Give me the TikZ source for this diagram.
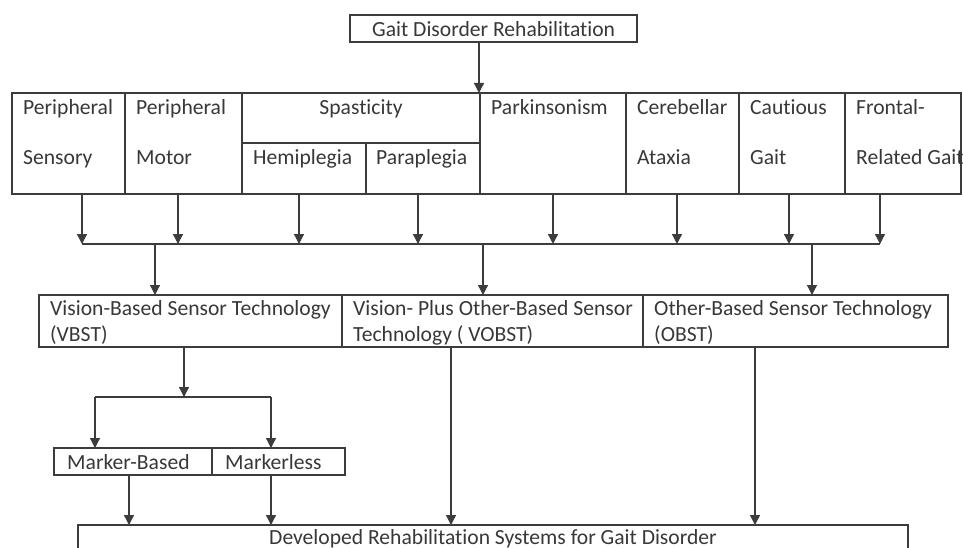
\documentclass[tikz,border=0pt]{standalone}
\usepackage{fontspec}
\setmainfont{Carlito}[Ligatures=NoCommon]
\usetikzlibrary{arrows.meta}
\definecolor{ln}{HTML}{3C3C3C}
\definecolor{tx}{HTML}{383838}
\tikzset{
  boxn/.style={draw=ln, line width=1.3pt, inner sep=0pt, outer sep=0pt, anchor=north west},
  txt/.style={inner sep=0pt, text=tx, font=\fontsize{21.6}{25}\selectfont, anchor=base west},
  arr/.style={draw=ln, line width=1.3pt, -{Triangle[length=10pt,width=10pt]}},
  ln/.style={draw=ln, line width=1.3pt}
}
\begin{document}
\begin{tikzpicture}[x=1pt,y=-1pt]
\useasboundingbox[fill=white] (0,0) rectangle (963,548);
% boxes
\node[boxn, minimum width=287pt, minimum height=27pt] (top) at (350,15) {};
\node[boxn, minimum width=113pt, minimum height=101pt] (psens) at (12,93) {};
\node[boxn, minimum width=117pt, minimum height=101pt] (pmot) at (125,93) {};
\node[boxn, minimum width=238pt, minimum height=50pt] (spas) at (242,93) {};
\node[boxn, minimum width=124pt, minimum height=51pt] (hemi) at (242,143) {};
\node[boxn, minimum width=114pt, minimum height=51pt] (para) at (366,143) {};
\node[boxn, minimum width=146pt, minimum height=101pt] (park) at (480,93) {};
\node[boxn, minimum width=113pt, minimum height=101pt] (cereb) at (626,93) {};
\node[boxn, minimum width=106pt, minimum height=101pt] (caut) at (739,93) {};
\node[boxn, minimum width=116pt, minimum height=101pt] (front) at (845,93) {};
\node[boxn, minimum width=303pt, minimum height=52pt] (vbst) at (39,295) {};
\node[boxn, minimum width=301pt, minimum height=52pt] (vobst) at (342,295) {};
\node[boxn, minimum width=305pt, minimum height=52pt] (obst) at (643,295) {};
\node[boxn, minimum width=158pt, minimum height=27pt] (mb) at (54,448) {};
\node[boxn, minimum width=133pt, minimum height=27pt] (ml) at (212,448) {};
\node[boxn, minimum width=830pt, minimum height=40pt] (dev) at (78,525) {};
% texts
\node[txt] (ttop) at (372,37) {Gait Disorder Rehabilitation};
\node[txt] (t1a) at (23,115) {Peripheral};
\node[txt] (t1b) at (23,165) {Sensory};
\node[txt] (t2a) at (136,115) {Peripheral};
\node[txt] (t2b) at (136,165) {Motor};
\node[txt, anchor=base] (t3) at (361,115) {Spasticity};
\node[txt] (t4) at (253,165) {Hemiplegia};
\node[txt] (t5) at (376,165) {Paraplegia};
\node[txt] (t6) at (491,115) {Parkinsonism};
\node[txt] (t7a) at (637,115) {Cerebellar};
\node[txt] (t7b) at (637,165) {Ataxia};
\node[txt] (t8a) at (750,115) {Cautious};
\node[txt] (t8b) at (750,165) {Gait};
\node[txt] (t9a) at (856,115) {Frontal-};
\node[txt] (t9b) at (856,165) {Related Gait};
\node[txt] (t10a) at (50,315) {Vision-Based Sensor Technology};
\node[txt] (t10b) at (50,341) {(VBST)};
\node[txt] (t11a) at (353,315) {Vision- Plus Other-Based Sensor};
\node[txt] (t11b) at (353,341) {Technology ( VOBST)};
\node[txt] (t12a) at (654,315) {Other-Based Sensor Technology};
\node[txt] (t12b) at (654,341) {(OBST)};
\node[txt] (t13) at (67,469) {Marker-Based};
\node[txt] (t14) at (225,469) {Markerless};
\node[txt, anchor=base] (t15) at (493,544) {Developed Rehabilitation Systems for Gait Disorder};
% coordinates
\coordinate (a0) at (479,0);
\coordinate (d1) at (82,244);
\coordinate (d2) at (178,244);
\coordinate (d3) at (299,244);
\coordinate (d4) at (418,244);
\coordinate (d5) at (553,244);
\coordinate (d6) at (677,244);
\coordinate (d7) at (789,244);
\coordinate (d8) at (880,244);
\coordinate (e1) at (155,244);
\coordinate (e2) at (483,244);
\coordinate (e3) at (812,244);
\coordinate (v) at (184,397);
\coordinate (m1) at (95,397);
\coordinate (m2) at (271,397);
\coordinate (f1) at (129,0);
\coordinate (f2) at (271,0);
\coordinate (f3) at (451,0);
\coordinate (f4) at (755,0);
% connectors
\draw[arr] (a0 |- top.south) -- (a0 |- park.north);
\draw[ln] (d1) -- (d8);
\draw[arr] (d1 |- psens.south) -- (d1);
\draw[arr] (d2 |- pmot.south) -- (d2);
\draw[arr] (d3 |- hemi.south) -- (d3);
\draw[arr] (d4 |- para.south) -- (d4);
\draw[arr] (d5 |- park.south) -- (d5);
\draw[arr] (d6 |- cereb.south) -- (d6);
\draw[arr] (d7 |- caut.south) -- (d7);
\draw[arr] (d8 |- front.south) -- (d8);
\draw[arr] (e1) -- (e1 |- vbst.north);
\draw[arr] (e2) -- (e2 |- vobst.north);
\draw[arr] (e3) -- (e3 |- obst.north);
\draw[arr] (v |- vbst.south) -- (v);
\draw[ln] (m1) -- (m2);
\draw[arr] (m1) -- (m1 |- mb.north);
\draw[arr] (m2) -- (m2 |- ml.north);
\draw[arr] (f1 |- mb.south) -- (f1 |- dev.north);
\draw[arr] (f2 |- ml.south) -- (f2 |- dev.north);
\draw[arr] (f3 |- vobst.south) -- (f3 |- dev.north);
\draw[arr] (f4 |- obst.south) -- (f4 |- dev.north);
\end{tikzpicture}
\end{document}
